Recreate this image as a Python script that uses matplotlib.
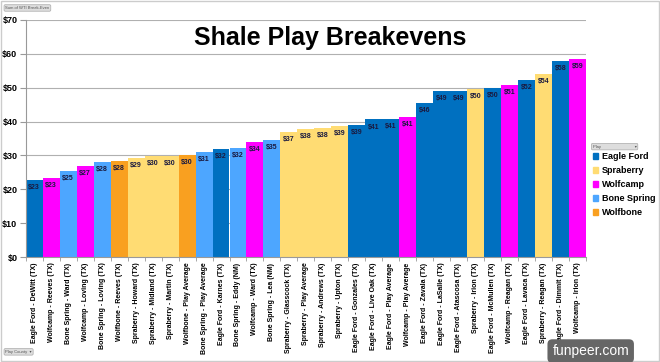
import matplotlib.pyplot as plt
from matplotlib.patches import Patch

plt.rcParams['font.family'] = ['Liberation Sans', 'DejaVu Sans']

counties = ['Eagle Ford - DeWitt (TX)', 'Wolfcamp - Reeves (TX)', 'Bone Spring - Ward (TX)',
            'Wolfcamp - Loving (TX)', 'Bone Spring - Loving (TX)', 'Wolfbone - Reeves (TX)',
            'Spraberry - Howard (TX)', 'Spraberry - Midland (TX)', 'Spraberry - Martin (TX)',
            'Wolfbone - Play Average', 'Bone Spring - Play Average', 'Eagle Ford - Karnes (TX)',
            'Bone Spring - Eddy (NM)', 'Wolfcamp - Ward (TX)', 'Bone Spring - Lea (NM)',
            'Spraberry - Glasscock (TX)', 'Spraberry - Play Average', 'Spraberry - Andrews (TX)',
            'Spraberry - Upton (TX)', 'Eagle Ford - Gonzales (TX)', 'Eagle Ford - Live Oak (TX)',
            'Eagle Ford - Play Average', 'Wolfcamp - Play Average', 'Eagle Ford - Zavala (TX)',
            'Eagle Ford - LaSalle (TX)', 'Eagle Ford - Atascosa (TX)', 'Spraberry - Irion (TX)',
            'Eagle Ford - McMullen (TX)', 'Wolfcamp - Reagan (TX)', 'Eagle Ford - Lavaca (TX)',
            'Spraberry - Reagan (TX)', 'Eagle Ford - Dimmit (TX)', 'Wolfcamp - Irion (TX)']
breakeven = [22.7, 23.4, 25.3, 27.0, 28.1, 28.4, 29.3, 29.8, 29.9, 30.2, 31.0, 32.0, 32.3,
             34.0, 34.6, 37.0, 37.8, 38.2, 38.6, 39.0, 40.6, 40.7, 41.3, 45.5, 48.9, 49.1,
             49.6, 49.8, 50.7, 52.3, 54.0, 57.8, 58.6]
plays = ['Eagle Ford', 'Spraberry', 'Wolfcamp', 'Bone Spring', 'Wolfbone']
play_colors = {'Eagle Ford': '#0070c0', 'Spraberry': '#ffdc73', 'Wolfcamp': '#ff00ff',
               'Bone Spring': '#4da6ff', 'Wolfbone': '#f9a020'}

bar_colors = [play_colors[c.split(' - ')[0]] for c in counties]

fig = plt.figure(figsize=(6.6, 3.62), dpi=100)
ax = fig.add_axes([0.039, 0.29, 0.849, 0.655])

x = range(len(counties))
bars = ax.bar(x, breakeven, width=1.0, color=bar_colors, zorder=2)
for b, v in zip(bars, breakeven):
    ax.text(b.get_x() + b.get_width() / 2, v - 1.2, f'${round(v)}', ha='center', va='top',
            fontsize=5, fontweight='bold', color='#1a1a40', zorder=3)

ax.set_xlim(-0.5, len(counties) - 0.5)
ax.set_ylim(0, 70)
ax.set_yticks(range(0, 71, 10))
ax.set_yticklabels([f'${v}' for v in range(0, 71, 10)], fontsize=6.5, fontweight='bold')
ax.yaxis.grid(True, color='#b0b0b0', linewidth=0.8, zorder=0)
ax.set_xticks(list(x))
ax.set_xticklabels(counties, rotation=90, fontsize=5, fontweight='bold')
ax.set_xticks([i - 0.5 for i in range(len(counties) + 1)], minor=True)
ax.tick_params(axis='x', which='major', length=0, pad=4)
ax.tick_params(axis='x', which='minor', length=3, color='#999999')
ax.tick_params(axis='y', length=4, color='#999999', pad=2)
for s in ['top', 'right']:
    ax.spines[s].set_visible(False)
ax.spines['left'].set_color('#999999')
ax.spines['bottom'].set_color('#999999')

fig.text(0.5, 0.895, 'Shale Play Breakevens', ha='center', va='center',
         fontsize=18, fontweight='bold')

handles = [Patch(color=play_colors[p]) for p in plays]
fig.legend(handles, plays, loc='upper left', bbox_to_anchor=(0.893, 0.59), frameon=False,
           prop={'weight': 'bold', 'size': 6.5}, handlelength=0.6,
           handleheight=0.6, handletextpad=0.4, labelspacing=0.55, borderaxespad=0)

btn = dict(boxstyle='round,pad=0.3', facecolor='#dddddd', edgecolor='#aaaaaa', linewidth=0.5)
fig.text(0.008, 0.978, 'Sum of WTI Break-Even', fontsize=3, color='#555555', va='center', bbox=btn)
fig.text(0.008, 0.028, 'Play County  \u25be', fontsize=3, color='#555555', va='center', bbox=btn)
fig.text(0.898, 0.595, 'Play' + ' ' * 30 + '\u25be', fontsize=3, color='#555555', va='center', bbox=btn)

fig.text(0.895, 0.03, 'funpeer.com', ha='center', va='center', fontsize=10, color='white',
         bbox=dict(boxstyle='round,pad=0.35', facecolor='#666666', edgecolor='none'))

fig.patches.append(plt.Rectangle((0.002, 0.003), 0.996, 0.994, transform=fig.transFigure,
                                 fill=False, edgecolor='#cccccc', linewidth=1))

fig.savefig('out.png', dpi=100)
